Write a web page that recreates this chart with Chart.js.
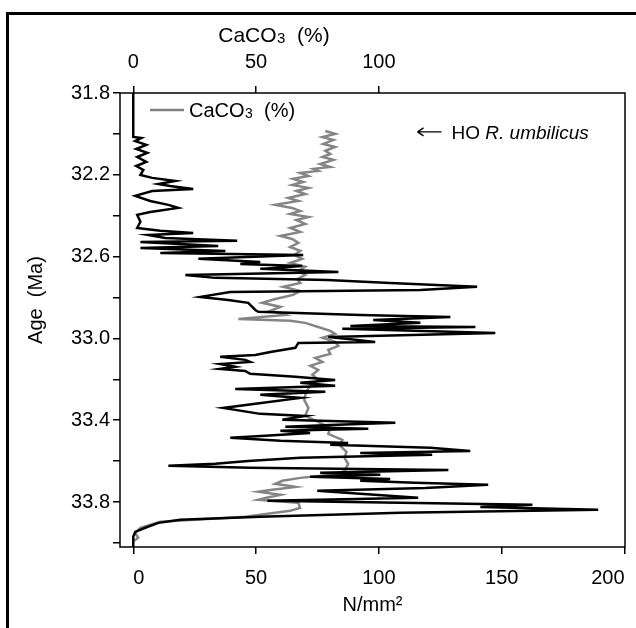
<!DOCTYPE html>
<html>
<head>
<meta charset="utf-8">
<script src="https://cdn.jsdelivr.net/npm/chart.js@4.4.0/dist/chart.umd.min.js"></script>
<style>
  html, body { margin: 0; padding: 0; background: #fff; }
  #wrap { width: 636px; height: 628px; }
</style>
</head>
<body>
<div id="wrap"><canvas id="ageChart" width="636" height="628"></canvas></div>
<script>
// black curve: N/mm2 against age (Ma)
const nAges = [31.800, 32.015, 32.020, 32.035, 32.054, 32.074, 32.093, 32.113, 32.137, 32.157,
  32.176, 32.201, 32.215, 32.230, 32.245, 32.255, 32.269, 32.279, 32.303, 32.328,
  32.347, 32.362, 32.382, 32.396, 32.430, 32.460, 32.474, 32.484, 32.494, 32.509,
  32.523, 32.528, 32.548, 32.558, 32.572, 32.582, 32.592, 32.611, 32.626, 32.636,
  32.646, 32.660, 32.675, 32.690, 32.704, 32.714, 32.729, 32.748, 32.763, 32.773,
  32.797, 32.812, 32.826, 32.861, 32.870, 32.885, 32.895, 32.910, 32.924, 32.939,
  32.944, 32.953, 32.973, 32.993, 33.007, 33.017, 33.022, 33.046, 33.066, 33.081,
  33.090, 33.105, 33.115, 33.125, 33.139, 33.149, 33.159, 33.173, 33.188, 33.203,
  33.217, 33.232, 33.247, 33.261, 33.276, 33.291, 33.340, 33.369, 33.379, 33.398,
  33.413, 33.423, 33.432, 33.442, 33.452, 33.462, 33.476, 33.486, 33.501, 33.511,
  33.520, 33.535, 33.550, 33.560, 33.569, 33.584, 33.599, 33.613, 33.623, 33.633,
  33.643, 33.657, 33.667, 33.677, 33.687, 33.696, 33.706, 33.716, 33.731, 33.745,
  33.760, 33.779, 33.794, 33.804, 33.814, 33.824, 33.838, 33.853, 33.872, 33.887,
  33.902, 33.926, 33.946, 33.970, 34.020];
const nValues = [0, 0, 3.3, 0.8, 5.3, 1.2, 5.7, 1.6, 5.3, 1.2,
  4.1, 2.9, 7.7, 17.1, 10.2, 15.0, 24.4, 7.7, 0.8, 6.9,
  14.3, 18.3, 6.9, 1.6, 2.9, 1.6, 11.0, 24.4, 6.1, 13.0,
  42.3, 2.9, 34.6, 2.9, 37.5, 11.0, 69.2, 26.5, 51.7, 43.6,
  68.8, 51.7, 83.5, 21.2, 33.4, 79.0, 104.6, 140.0, 116.9, 39.5,
  27.3, 38.7, 46.8, 49.7, 50.9, 92.4, 129.1, 97.7, 116.9, 88.4,
  139.3, 85.1, 147.4, 79.4, 90.4, 98.5, 67.2, 66.0, 55.8, 49.7,
  35.4, 45.6, 47.6, 35.4, 41.5, 35.4, 45.6, 47.6, 66.0, 82.2,
  68.0, 82.2, 41.5, 78.2, 51.7, 68.0, 36.6, 51.7, 70.0, 60.7,
  106.7, 80.2, 61.9, 95.7, 59.9, 72.0, 53.7, 39.5, 59.9, 87.5,
  80.2, 120.9, 137.2, 92.4, 121.7, 68.0, 46.8, 33.4, 14.3, 47.6,
  128.3, 76.1, 100.6, 72.0, 104.6, 92.4, 114.8, 144.5, 118.9, 74.9,
  92.4, 116.0, 54.6, 108.7, 162.5, 141.3, 189.3, 108.7, 51.7, 19.1,
  10.2, 4.9, 0.8, 0, 0];

// grey curve: CaCO3 (%) against age (Ma)
const caAges = [31.986, 32.000, 32.015, 32.030, 32.049, 32.064, 32.083, 32.098, 32.113, 32.127,
  32.147, 32.162, 32.171, 32.181, 32.191, 32.206, 32.220, 32.235, 32.250, 32.264,
  32.279, 32.294, 32.313, 32.328, 32.347, 32.362, 32.377, 32.391, 32.406, 32.421,
  32.440, 32.460, 32.479, 32.499, 32.514, 32.533, 32.553, 32.572, 32.592, 32.611,
  32.631, 32.650, 32.670, 32.690, 32.709, 32.729, 32.748, 32.768, 32.787, 32.807,
  32.826, 32.846, 32.865, 32.885, 32.905, 32.914, 32.924, 32.944, 32.963, 32.978,
  32.997, 33.017, 33.037, 33.056, 33.076, 33.095, 33.115, 33.134, 33.154, 33.178,
  33.203, 33.232, 33.261, 33.300, 33.340, 33.379, 33.408, 33.437, 33.467, 33.496,
  33.525, 33.555, 33.584, 33.613, 33.643, 33.662, 33.682, 33.696, 33.711, 33.726,
  33.741, 33.750, 33.765, 33.779, 33.789, 33.804, 33.829, 33.843, 33.872, 33.897,
  33.926, 33.951, 33.975, 33.990];
const caValues = [78.2, 82.2, 77.0, 81.5, 77.4, 82.2, 78.2, 80.2, 77.0, 81.5,
  76.1, 80.2, 73.3, 75.3, 68.0, 71.3, 65.1, 69.2, 64.7, 71.3,
  66.4, 70.0, 63.1, 67.2, 57.8, 64.7, 68.0, 63.9, 71.3, 66.4,
  70.0, 63.9, 68.0, 59.9, 64.7, 67.2, 63.9, 68.0, 65.6, 68.8,
  63.9, 70.0, 67.2, 70.0, 66.8, 68.0, 61.1, 68.0, 65.1, 57.8,
  52.5, 59.9, 55.8, 61.9, 42.8, 63.9, 70.0, 75.3, 80.2, 82.2,
  77.0, 82.2, 83.5, 79.4, 80.2, 74.1, 77.0, 72.1, 75.3, 72.9,
  75.3, 72.1, 70.4, 69.6, 71.3, 70.0, 75.3, 80.2, 79.4, 85.1,
  84.3, 86.8, 86.0, 87.5, 86.3, 84.3, 68.0, 60.7, 57.8, 66.0,
  55.8, 50.9, 59.9, 54.2, 50.9, 67.2, 67.9, 63.9, 45.6, 11.0,
  2.9, 0.8, 2.0, 0.4];

const ageTicks = [31.8, 32.0, 32.2, 32.4, 32.6, 32.8, 33.0, 33.2, 33.4, 33.6, 33.8, 34.0];
const ageLabels = ['31.8', '32.2', '32.6', '33.0', '33.4', '33.8'];
const nTicks = [0, 50, 100, 150, 200];
const caTicks = [0, 50, 100];

const FONT = "'Liberation Sans', Arial, sans-serif";
const FS = 20;

function toPoints(ages, vals) {
  return ages.map((a, i) => ({ x: vals[i], y: a }));
}

// CaCO3 with a small 3, drawn from x (left) on baseline y
function drawCaco(ctx, x, y, size, measureOnly) {
  const big = size + 'px ' + FONT;
  const small = Math.round(size * 0.72) + 'px ' + FONT;
  const x0 = x;
  ctx.font = big;
  if (!measureOnly) ctx.fillText('CaCO', x, y);
  x += ctx.measureText('CaCO').width + 0.5;
  ctx.font = small;
  if (!measureOnly) ctx.fillText('3', x, y + 1);
  x += ctx.measureText('3').width;
  ctx.font = big;
  if (!measureOnly) ctx.fillText('  (%)', x, y);
  x += ctx.measureText('  (%)').width;
  return x - x0;
}

const extras = {
  id: 'extras',
  beforeDraw(chart) {
    const ctx = chart.ctx;
    ctx.save();
    ctx.fillStyle = '#fff';
    ctx.fillRect(0, 0, chart.width, chart.height);
    // outer figure border (left and top)
    ctx.strokeStyle = '#000';
    ctx.lineWidth = 3;
    ctx.beginPath();
    ctx.moveTo(7.5, chart.height);
    ctx.lineTo(7.5, 13.5);
    ctx.lineTo(chart.width, 13.5);
    ctx.stroke();
    ctx.restore();
  },
  afterDatasetsDraw(chart) {
    const { ctx, chartArea: a } = chart;
    ctx.save();
    ctx.strokeStyle = '#000';
    ctx.lineWidth = 1.5;
    ctx.strokeRect(a.left, a.top, a.right - a.left, a.bottom - a.top);

    ctx.fillStyle = '#000';
    ctx.textBaseline = 'alphabetic';
    ctx.textAlign = 'left';

    // top axis title
    const w = drawCaco(ctx, 0, 0, 21, true);
    drawCaco(ctx, 274 - w / 2, 42, 21);

    // y axis title
    ctx.save();
    ctx.translate(36, 300);
    ctx.rotate(-Math.PI / 2);
    ctx.textAlign = 'center';
    ctx.textBaseline = 'middle';
    ctx.font = FS + 'px ' + FONT;
    ctx.fillText('Age  (Ma)', 0, 0);
    ctx.restore();

    // legend for the grey curve
    ctx.strokeStyle = '#808080';
    ctx.lineWidth = 2.5;
    ctx.beginPath();
    ctx.moveTo(a.left + 30, a.top + 17);
    ctx.lineTo(a.left + 64, a.top + 17);
    ctx.stroke();
    drawCaco(ctx, a.left + 69, a.top + 24, FS);

    // HO R. umbilicus marker
    const ys = chart.scales.y, xs = chart.scales.x;
    const ay = ys.getPixelForValue(31.99);
    const ax = xs.getPixelForValue(125.5);
    ctx.strokeStyle = '#000';
    ctx.lineWidth = 1.3;
    ctx.beginPath();
    ctx.moveTo(ax - 24, ay);
    ctx.lineTo(ax, ay);
    ctx.moveTo(ax - 24, ay);
    ctx.lineTo(ax - 18, ay - 4);
    ctx.moveTo(ax - 24, ay);
    ctx.lineTo(ax - 18, ay + 4);
    ctx.stroke();
    ctx.font = '19px ' + FONT;
    ctx.fillText('HO ', ax + 10, ay + 7);
    const hw = ctx.measureText('HO ').width;
    ctx.font = 'italic 19px ' + FONT;
    ctx.fillText('R. umbilicus', ax + 10 + hw, ay + 7);
    ctx.restore();
  }
};

const tickFont = { family: FONT, size: FS };
const axisGrid = { drawOnChartArea: false, drawTicks: true, tickLength: 7, color: '#000', lineWidth: 1.5 };
const noSidePad = s => { s.paddingLeft = 0; s.paddingRight = 0; };

new Chart(document.getElementById('ageChart').getContext('2d'), {
  type: 'scatter',
  data: {
    datasets: [{
      label: 'N/mm2',
      data: toPoints(nAges, nValues),
      showLine: true,
      borderColor: '#000',
      borderWidth: 2.5,
      pointRadius: 0,
      tension: 0,
      xAxisID: 'x',
      yAxisID: 'y'
    }, {
      label: 'CaCO3 (%)',
      data: toPoints(caAges, caValues),
      showLine: true,
      borderColor: '#858585',
      borderWidth: 2.5,
      pointRadius: 0,
      tension: 0,
      xAxisID: 'x2',
      yAxisID: 'y'
    }]
  },
  options: {
    responsive: false,
    animation: false,
    devicePixelRatio: 1,
    layout: { padding: { left: 0, right: 11, top: 0, bottom: 0 } },
    plugins: {
      legend: { display: false },
      tooltip: { enabled: false }
    },
    scales: {
      x: {
        type: 'linear',
        position: 'bottom',
        min: -5.4,
        max: 200.2,
        afterBuildTicks: s => { s.ticks = nTicks.map(v => ({ value: v })); },
        afterFit: s => { s.height = 81; noSidePad(s); },
        border: { display: false },
        grid: axisGrid,
        ticks: { color: '#000', font: tickFont, padding: 12, align: 'inner', maxRotation: 0, autoSkip: false },
        title: { display: true, text: 'N/mm²', color: '#000', font: tickFont, padding: { top: 0, bottom: 11 } }
      },
      x2: {
        type: 'linear',
        position: 'top',
        min: -5.4,
        max: 200.2,
        afterBuildTicks: s => { s.ticks = caTicks.map(v => ({ value: v })); },
        afterFit: s => { s.height = 93; noSidePad(s); },
        border: { display: false },
        grid: axisGrid,
        ticks: { color: '#000', font: tickFont, padding: 12, maxRotation: 0, autoSkip: false }
      },
      y: {
        type: 'linear',
        position: 'left',
        reverse: true,
        min: 31.8,
        max: 34.02,
        afterBuildTicks: s => { s.ticks = ageTicks.map(v => ({ value: v })); },
        afterFit: s => { s.width = 120; },
        border: { display: false },
        grid: axisGrid,
        ticks: {
          color: '#000',
          font: tickFont,
          padding: 3,
          autoSkip: false,
          callback: v => { const t = Number(v).toFixed(1); return ageLabels.includes(t) ? t : ''; }
        }
      }
    }
  },
  plugins: [extras]
});
</script>
</body>
</html>
